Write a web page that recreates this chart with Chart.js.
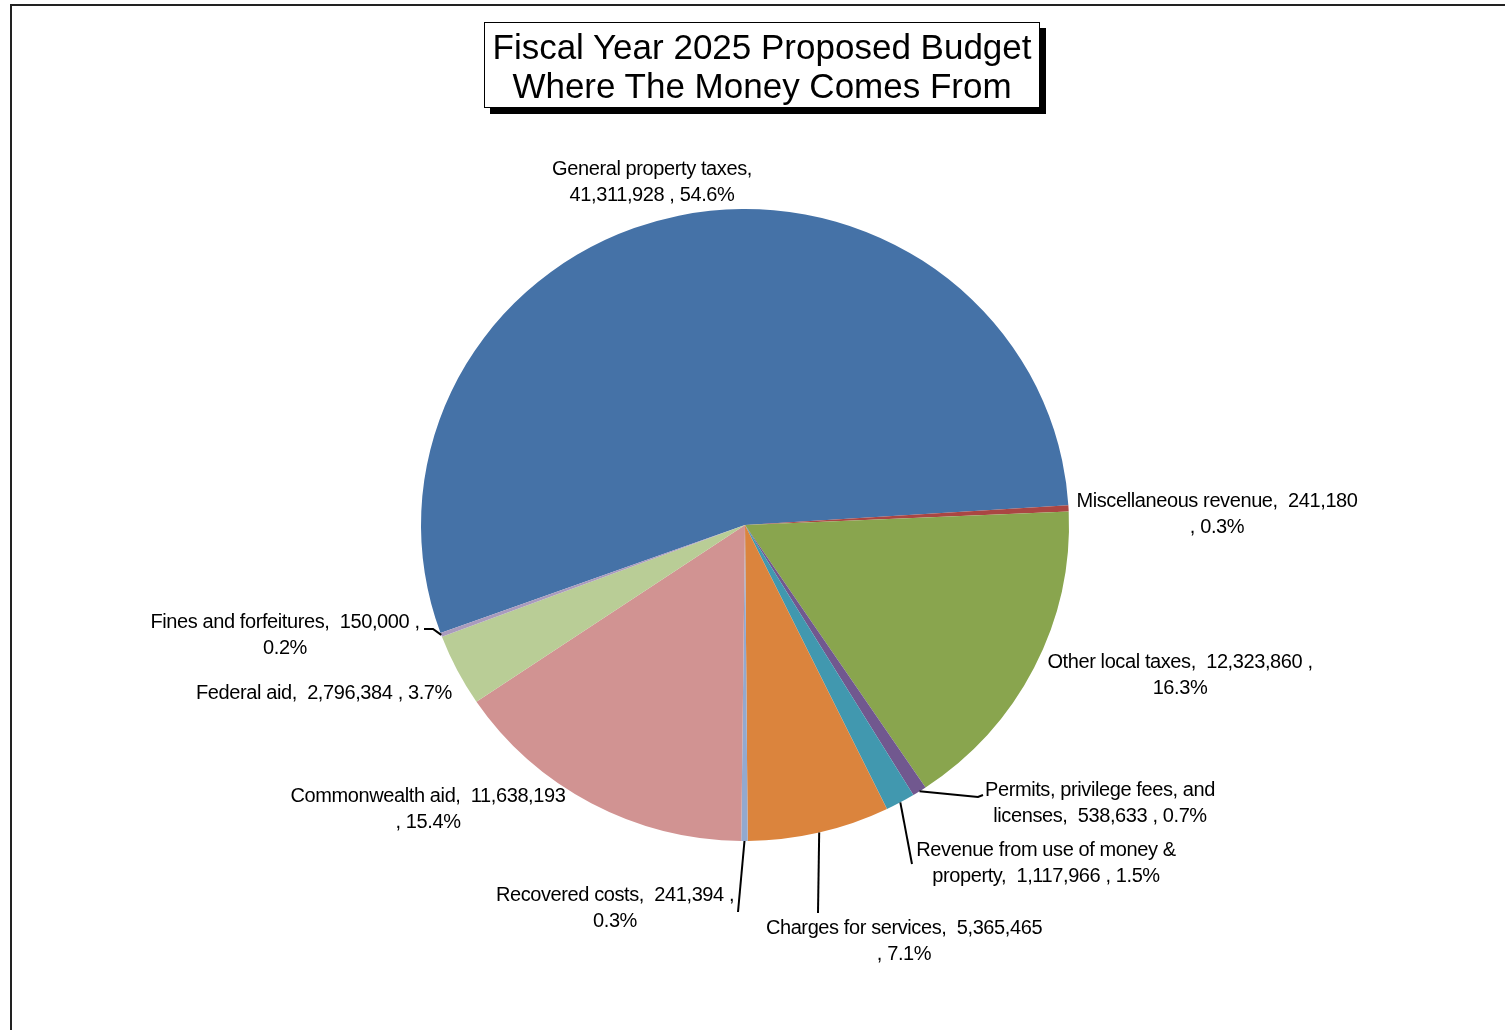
<!DOCTYPE html>
<html>
<head>
<meta charset="utf-8">
<title>Fiscal Year 2025 Proposed Budget</title>
<script src="https://cdn.jsdelivr.net/npm/chart.js@4.4.1/dist/chart.umd.min.js"></script>
<style>
  html, body { margin: 0; padding: 0; background: #fff; overflow: hidden; }
  #wrap { position: relative; width: 1505px; height: 1030px; }
  #frame { position: absolute; left: 10px; top: 4px; width: 1520px; height: 1060px; border: 2px solid #222; }
  #budgetChart { position: absolute; left: 0; top: 0; }
  #title {
    position: absolute; left: 484px; top: 22px; width: 556px; height: 86px;
    box-sizing: border-box; padding-top: 4px;
    border: 1.5px solid #000; box-shadow: 6px 6px 0 #000; background: #fff;
    font: 35px "Liberation Sans", Arial, sans-serif; line-height: 39px;
    text-align: center; color: #000;
  }
</style>
</head>
<body>
<div id="wrap">
  <div id="frame"></div>
  <canvas id="budgetChart" width="1505" height="1030"></canvas>
  <div id="title">Fiscal Year 2025 Proposed Budget<br>Where The Money Comes From</div>
</div>
<script>
// revenue sources, in slice order
const categories = [
  'General property taxes',
  'Miscellaneous revenue',
  'Other local taxes',
  'Permits, privilege fees, and licenses',
  'Revenue from use of money & property',
  'Charges for services',
  'Recovered costs',
  'Commonwealth aid',
  'Federal aid',
  'Fines and forfeitures'
];
const amounts = [41311928, 241180, 12323860, 538633, 1117966, 5365465, 241394, 11638193, 2796384, 150000];
const sliceColors = ['#4572A7', '#AA4643', '#89A54E', '#71588F', '#4198AF', '#DB843D', '#93A9CF', '#D19392', '#B9CD96', '#A99BBD'];

// label placement: centre of first line, word index where the label wraps
const labelPos = [[652, 169], [1217, 501], [1180, 662], [1100, 790], [1046, 850],
                  [904, 928], [615, 895], [428, 796], [324, 693], [285, 622]];
const labelBreak = [3, 3, 5, 4, 6, 4, 4, 3, null, 5];
// leader lines run from the slice edge through these points
const leaderPath = {
  3: [[978, 797], [983, 795]],
  4: [[912, 864]],
  5: [[818, 913]],
  6: [[738, 912]],
  9: [[433, 629], [424, 629]]
};

const squash = 316 / 324;   // pie is drawn slightly flattened
const total = amounts.reduce((a, b) => a + b, 0);
const pct = i => (amounts[i] / total * 100).toFixed(1);

function labelLines(i) {
  const name = categories[i].split(' ');
  name[name.length - 1] += ',';
  const tokens = name.concat([amounts[i].toLocaleString('en-US'), ',', pct(i) + '%']);
  const gapAfter = name.length - 1;
  const join = (from, to) => {
    let s = '';
    for (let k = from; k < to; k++) {
      s += tokens[k];
      if (k < to - 1) s += (k === gapAfter ? '  ' : ' ');
    }
    return s;
  };
  const b = labelBreak[i];
  return b ? [join(0, b), join(b, tokens.length)] : [join(0, tokens.length)];
}

const flatten = {
  id: 'flatten',
  beforeDatasetsDraw(chart) {
    const a = chart.getDatasetMeta(0).data[0];
    const ctx = chart.ctx;
    ctx.save();
    ctx.translate(a.x, a.y);
    ctx.scale(1, squash);
    ctx.translate(-a.x, -a.y);
  },
  afterDatasetsDraw(chart) {
    chart.ctx.restore();
  }
};

const sliceLabels = {
  id: 'sliceLabels',
  afterDraw(chart) {
    const ctx = chart.ctx;
    const arcs = chart.getDatasetMeta(0).data;
    ctx.save();
    ctx.font = '20px "Liberation Sans", Arial, sans-serif';
    ctx.letterSpacing = '-0.4px';
    ctx.fillStyle = '#000';
    ctx.textAlign = 'center';
    ctx.textBaseline = 'middle';
    ctx.strokeStyle = '#000';
    ctx.lineWidth = 2;
    categories.forEach((c, i) => {
      const [x, y] = labelPos[i];
      labelLines(i).forEach((t, k) => ctx.fillText(t, x, y + k * 26));
      const path = leaderPath[i];
      if (!path) return;
      const a = arcs[i];
      const mid = (a.startAngle + a.endAngle) / 2;
      ctx.beginPath();
      ctx.moveTo(a.x + Math.cos(mid) * a.outerRadius, a.y + Math.sin(mid) * a.outerRadius * squash);
      path.forEach(p => ctx.lineTo(p[0], p[1]));
      ctx.stroke();
    });
    ctx.restore();
  }
};

new Chart(document.getElementById('budgetChart'), {
  type: 'pie',
  data: {
    labels: categories,
    datasets: [{
      data: amounts,
      backgroundColor: sliceColors,
      borderWidth: 0
    }]
  },
  options: {
    responsive: false,
    animation: false,
    rotation: 250,
    layout: { padding: { left: 421, right: 436, top: 201, bottom: 181 } },
    plugins: { legend: { display: false }, tooltip: { enabled: false }, title: { display: false } }
  },
  plugins: [flatten, sliceLabels]
});
</script>
</body>
</html>
